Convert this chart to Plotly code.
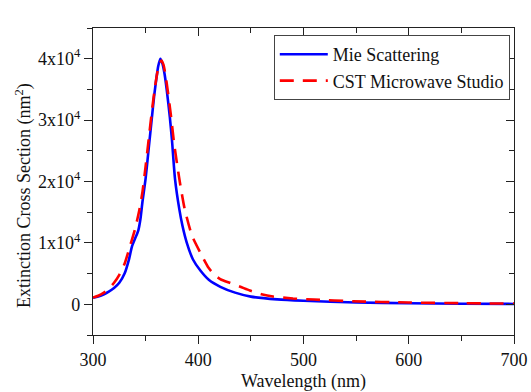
import plotly.graph_objects as go

# Mie scattering (blue, solid)
mie_wl = [300, 305, 310, 315, 320, 325, 330, 334, 337, 340, 343, 345, 347, 350, 353, 356,
          358, 360, 362, 364, 366, 368, 370, 373, 375, 378, 382, 385, 389, 395, 402, 410,
          421, 435, 450, 475, 500, 550, 600, 650, 700]
mie_val = [1050, 1250, 1600, 2050, 2650, 3500, 5000, 7200, 9400, 10700, 12000, 13800, 16700,
           20500, 25500, 30500, 33800, 36500, 38800, 40000, 39200, 37500, 35000, 30500, 26800,
           20300, 15500, 12800, 10100, 7300, 5500, 4000, 2850, 1900, 1250, 800, 580, 300,
           170, 100, 60]

# CST Microwave Studio (red, dashed)
cst_wl = [300, 305, 310, 315, 320, 325, 330, 335, 340, 344, 347, 350, 353, 356, 359, 362,
          365, 367, 369, 371, 374, 377, 380, 383, 387, 394, 402, 410, 416, 422, 430, 440,
          449, 460, 471, 490, 510, 547, 600, 650, 700]
cst_val = [1100, 1400, 1850, 2500, 3500, 4800, 6600, 9400, 12300, 15300, 18300, 22500, 27000,
           31500, 35500, 38500, 39700, 39000, 37200, 34800, 30800, 26300, 22700, 19400, 15600,
           11200, 8400, 5900, 4700, 4000, 3500, 2850, 2240, 1650, 1260, 950, 770, 490, 290,
           180, 110]

y_tickvals = [0, 10000, 20000, 30000, 40000]
y_ticktext = ["0", "1x10<sup>4</sup>", "2x10<sup>4</sup>", "3x10<sup>4</sup>", "4x10<sup>4</sup>"]
x_tickvals = [300, 400, 500, 600, 700]

FONT = "Liberation Serif, Times New Roman, serif"
x_range = [300, 700]
y_range = [-5000, 45000]

fig = go.Figure()
fig.add_trace(go.Scatter(x=mie_wl, y=mie_val, mode="lines", name="Mie Scattering",
                         line=dict(color="#0000FF", width=2.6, shape="spline", smoothing=0.6)))
fig.add_trace(go.Scatter(x=cst_wl, y=cst_val, mode="lines", name="CST Microwave Studio",
                         line=dict(color="#FF0000", width=2.6, dash="14px,9px",
                                   shape="spline", smoothing=0.6)))
# invisible trace to carry the mirrored top/right axes
fig.add_trace(go.Scatter(x=[x_range[0]], y=[y_range[0]], xaxis="x2", yaxis="y2",
                         mode="markers", marker=dict(opacity=0), showlegend=False,
                         hoverinfo="skip"))

axis_common = dict(showline=True, linecolor="#222", linewidth=1.3, showgrid=False,
                   zeroline=False, ticklen=8, tickwidth=1.3, tickcolor="#222",
                   automargin=False)

fig.update_layout(
    width=531, height=392,
    margin=dict(l=93, r=17, t=28, b=57, autoexpand=False),
    paper_bgcolor="white", plot_bgcolor="white",
    font=dict(family=FONT, size=18, color="#111"),
    xaxis=dict(range=x_range, tickmode="array", tickvals=x_tickvals, ticks="outside",
               mirror=True,
               minor=dict(ticks="outside", dtick=50, tick0=300, ticklen=5,
                          tickwidth=1.3, tickcolor="#222"),
               **axis_common),
    yaxis=dict(range=y_range, tickmode="array", tickvals=y_tickvals, ticktext=y_ticktext,
               ticks="outside", mirror=True,
               minor=dict(ticks="outside", dtick=5000, tick0=0, ticklen=5,
                          tickwidth=1.3, tickcolor="#222"),
               **axis_common),
    xaxis2=dict(range=x_range, overlaying="x", side="top", anchor="y2", tickmode="array",
                tickvals=x_tickvals, ticks="inside", showticklabels=False,
                minor=dict(ticks="inside", dtick=50, tick0=300, ticklen=5,
                           tickwidth=1.3, tickcolor="#222"),
                **axis_common),
    yaxis2=dict(range=y_range, overlaying="y", side="right", anchor="x2", tickmode="array",
                tickvals=y_tickvals, ticks="inside", showticklabels=False,
                minor=dict(ticks="inside", dtick=5000, tick0=0, ticklen=5,
                           tickwidth=1.3, tickcolor="#222"),
                **axis_common),
    legend=dict(x=0.99, y=0.977, xanchor="right", yanchor="top",
                bordercolor="#444", borderwidth=1, bgcolor="white",
                font=dict(family=FONT, size=18, color="#111"),
                itemwidth=48, tracegroupgap=0),
    showlegend=True,
    annotations=[
        dict(text="Wavelength (nm)", xref="paper", yref="paper", x=0.5, y=-0.153,
             showarrow=False, xanchor="center", yanchor="middle",
             font=dict(family=FONT, size=18, color="#111")),
        dict(text="Extinction Cross Section (nm<sup>2</sup>)", xref="paper", yref="paper",
             x=-0.164, y=0.456, showarrow=False, textangle=-90,
             xanchor="center", yanchor="middle",
             font=dict(family=FONT, size=18, color="#111")),
    ],
)

fig.write_html("out.html", config={"displayModeBar": False},
               post_script="document.body.style.margin='0';document.body.style.overflow='hidden';")
